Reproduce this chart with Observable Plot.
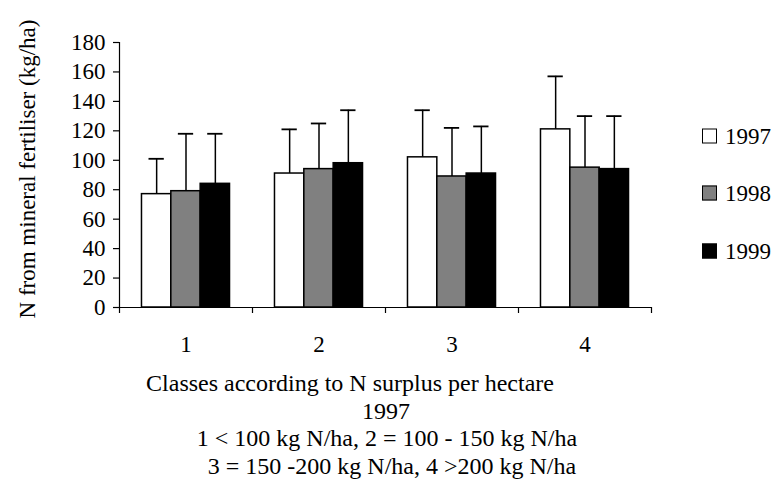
<!DOCTYPE html>
<html><head><meta charset="utf-8">
<script src="https://cdn.jsdelivr.net/npm/d3@7"></script>
<script src="https://cdn.jsdelivr.net/npm/@observablehq/plot@0.6"></script>
<style>
html,body{margin:0;padding:0;background:#fff;}
body{font-family:"Liberation Serif","Times New Roman",serif;color:#000;}
#wrap{position:relative;width:772px;height:483px;overflow:hidden;}
#chart{position:absolute;left:0;top:0;}
#ytitle{position:absolute;left:27px;top:169px;font-size:23px;line-height:23px;white-space:nowrap;transform:translate(-50%,-50%) rotate(-90deg);}
#legend{position:absolute;left:702px;top:0;}
.li{position:absolute;left:0;display:flex;align-items:center;font-size:23px;line-height:23px;white-space:nowrap;transform:translateY(-50%);}
.sw{box-sizing:border-box;width:15px;height:15px;border:1.5px solid #000;margin-right:8px;}
#caption{position:absolute;left:0;top:370px;width:772px;text-align:center;font-size:24px;line-height:27.7px;}
#caption div{position:relative;white-space:nowrap;}
</style></head><body>
<div id="wrap">
  <div id="chart"></div>
  <div id="ytitle">N from mineral fertiliser (kg/ha)</div>
  <div id="legend"></div>
  <div id="caption"></div>
</div>
<script>
// ---- data ----
const classes = ["1", "2", "3", "4"];
const years = ["1997", "1998", "1999"];
const mean1997 = [77, 91, 102, 121];
const mean1998 = [79, 94, 89, 95];
const mean1999 = [84, 98, 91, 94];
const sd1997 = [24, 30, 32, 36];
const sd1998 = [39, 31, 33, 35];
const sd1999 = [34, 36, 32, 36];
const yTicks = [0, 20, 40, 60, 80, 100, 120, 140, 160, 180];
const yLabel = "N from mineral fertiliser (kg/ha)";
const captionLines = [
  "Classes according to N surplus per hectare",
  "1997",
  "1 < 100 kg N/ha, 2 = 100 - 150 kg N/ha",
  "3 = 150 -200 kg N/ha, 4 >200 kg N/ha"
];
const yearFills = ["#ffffff", "#808080", "#000000"];

// ---- build table ----
const meansByYear = [mean1997, mean1998, mean1999];
const sdsByYear = [sd1997, sd1998, sd1999];
const rows = [];
years.forEach((yr, j) => classes.forEach((c, i) => rows.push({
  pos: i + 1, cls: c, year: yr, j, mean: meansByYear[j][i], top: meansByYear[j][i] + sdsByYear[j][i]
})));

const groupW = 0.662, barW = groupW / years.length, capW = 0.115;
const bx1 = d => d.pos - groupW / 2 + d.j * barW;
const bx2 = d => bx1(d) + barW;
const bxc = d => bx1(d) + barW / 2;
const xDomain = [0.5, classes.length + 0.5];
const boundaries = d3.range(classes.length + 1).map(k => k + 0.5);

const chart = Plot.plot({
  width: 772, height: 365,
  marginLeft: 119, marginRight: 121, marginTop: 42, marginBottom: 58,
  x: {domain: xDomain},
  y: {domain: [0, 180]},
  color: {domain: years, range: yearFills},
  style: {fontFamily: "'Liberation Serif','Times New Roman',serif", fontSize: "23px", color: "#000", background: "#fff"},
  marks: [
    Plot.rectY(rows, {x1: bx1, x2: bx2, y: "mean", fill: "year", stroke: "#000", strokeWidth: 1.5}),
    Plot.ruleX(rows, {x: bxc, y1: "mean", y2: "top", stroke: "#000", strokeWidth: 1.5}),
    Plot.ruleY(rows, {y: "top", x1: d => bxc(d) - capW / 2, x2: d => bxc(d) + capW / 2, stroke: "#000", strokeWidth: 1.8}),
    Plot.ruleX([xDomain[0]], {stroke: "#000", strokeWidth: 1.2}),
    Plot.ruleY([0], {stroke: "#000", strokeWidth: 1.2}),
    Plot.axisY({ticks: yTicks, tickSize: 6, tickPadding: 8, label: null, strokeWidth: 1.2}),
    Plot.axisX({ticks: boundaries, tickSize: 6, tickFormat: () => "", label: null, strokeWidth: 1.2}),
    Plot.axisX({ticks: classes.map((c, i) => i + 1), tickSize: 0, tickPadding: 28, tickFormat: v => classes[v - 1], label: null})
  ]
});
document.getElementById("chart").appendChild(chart);

// legend
const legend = document.getElementById("legend");
const legendY = [136, 193, 251];
years.forEach((yr, j) => {
  const li = document.createElement("div");
  li.className = "li";
  li.style.top = legendY[j] + "px";
  const sw = document.createElement("div");
  sw.className = "sw";
  sw.style.background = yearFills[j];
  const t = document.createElement("span");
  t.textContent = yr;
  li.appendChild(sw); li.appendChild(t);
  legend.appendChild(li);
});

// caption
const cap = document.getElementById("caption");
const capShift = [-36, 0, 1, 6];
captionLines.forEach((s, k) => {
  const d = document.createElement("div");
  d.textContent = s;
  d.style.left = capShift[k] + "px";
  cap.appendChild(d);
});
document.getElementById("ytitle").textContent = yLabel;
</script>
</body></html>
